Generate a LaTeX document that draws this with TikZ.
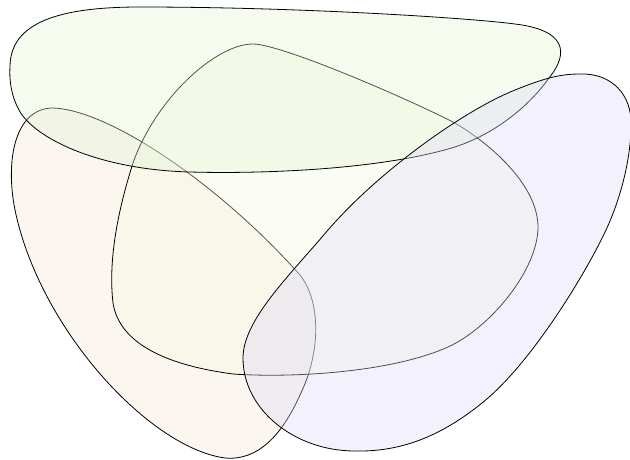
\documentclass[tikz,border=0pt]{standalone}
\begin{document}
\begin{tikzpicture}[x=1pt,y=-1pt,
  blob/.style={draw=black,line width=0.8pt,fill opacity=0.35,line join=round},
]
\definecolor{cgreen}{RGB}{226,244,209}
\definecolor{cpeach}{RGB}{244,229,212}
\definecolor{cblue}{RGB}{221,218,246}
\definecolor{cmid}{RGB}{244,246,224}
\useasboundingbox (0,0) rectangle (630,460);
% peach
\draw[blob,fill=cpeach] (53,108)
  .. controls (110,110) and (220,185) .. (300,275)
  .. controls (320,300) and (322,350) .. (300,395)
  .. controls (282,435) and (258,461) .. (225,458)
  .. controls (150,448) and (40,330) .. (15,210)
  .. controls (5,160) and (15,108) .. (53,108) -- cycle;
% middle
\draw[blob,fill=cmid] (253,44)
  .. controls (280,44) and (400,95) .. (455,123)
  .. controls (500,150) and (538,190) .. (538,227)
  .. controls (538,270) and (490,328) .. (448,347)
  .. controls (390,373) and (290,378) .. (233,374)
  .. controls (150,363) and (118,335) .. (113,303)
  .. controls (108,260) and (118,210) .. (133,163)
  .. controls (155,100) and (215,44) .. (253,44) -- cycle;
% green
\draw[blob,fill=cgreen] (10,67)
  .. controls (10,22) and (60,7) .. (140,7)
  .. controls (300,7) and (470,18) .. (515,24)
  .. controls (565,30) and (570,52) .. (549,78)
  .. controls (532,102) and (500,132) .. (455,147)
  .. controls (380,170) and (260,174) .. (190,172)
  .. controls (110,170) and (45,145) .. (22,115)
  .. controls (12,100) and (9,82) .. (10,67) -- cycle;
% blue
\draw[blob,fill=cblue] (580,74)
  .. controls (612,73) and (632,95) .. (631,125)
  .. controls (631,160) and (620,200) .. (606,230)
  .. controls (585,275) and (530,365) .. (482,403)
  .. controls (440,437) and (400,452) .. (355,451)
  .. controls (295,451) and (243,410) .. (243,358)
  .. controls (243,320) and (290,275) .. (328,230)
  .. controls (380,170) and (465,110) .. (515,90)
  .. controls (545,78) and (560,74) .. (580,74) -- cycle;
\end{tikzpicture}
\end{document}
